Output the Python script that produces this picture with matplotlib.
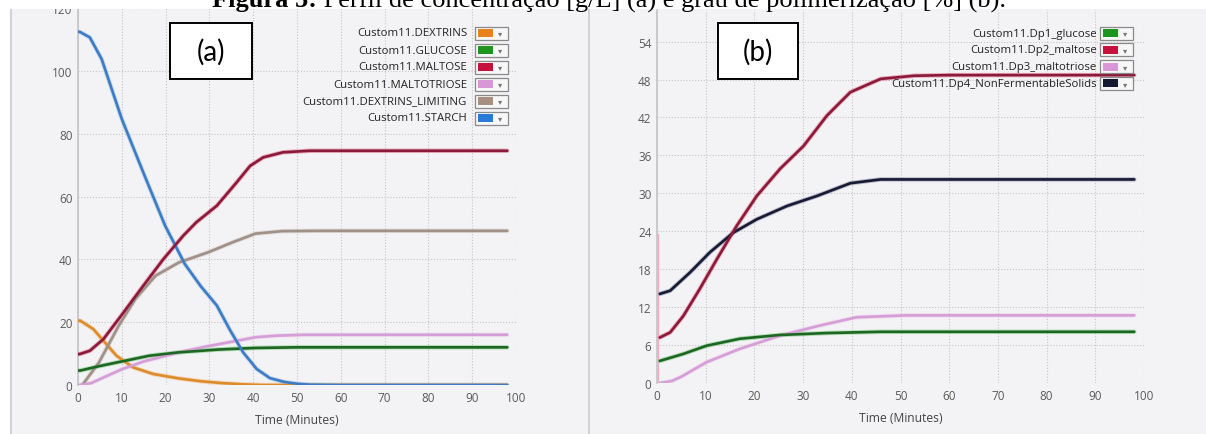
"""
Concentration profile (a) and degree of polymerisation (b) for the mash simulation,
redrawn from the screenshot of the simulator charts.
"""

import matplotlib

matplotlib.use("Agg")
import matplotlib.pyplot as plt
from matplotlib.patches import Rectangle
from matplotlib.lines import Line2D

W, H = 1206, 435

# ---- panel (a): concentration [g/L] ----
STARCH_T = [0, 0.5, 2.7, 5.4, 10, 14.9, 19.9, 24.4, 28, 31.7, 34.7, 37.7, 40.8, 43.8, 47, 50, 53, 60, 98]
STARCH_Y = [112.5, 112.4, 110.7, 103.8, 84.7, 67.7, 50.7, 38.5, 31.5, 25.3, 17.5, 10.4, 5.1, 2.2, 1.0, 0.4, 0.1, 0, 0]

MALTOSE_T = [0, 0.5, 2.7, 5.8, 10.4, 14.9, 19.5, 24, 27, 31.7, 36.2, 39.3, 42.3, 46.8, 52.9, 60, 98]
MALTOSE_Y = [9.8, 9.9, 10.9, 14.6, 23.1, 31.6, 40.1, 47.5, 51.8, 57.1, 64.5, 69.8, 72.5, 74.1, 74.6, 74.6, 74.6]

DEXLIM_T = [1, 2, 4.8, 9.3, 13.1, 17.7, 23, 29.8, 35.2, 40.5, 46.6, 55, 98]
DEXLIM_Y = [0, 1.9, 7.2, 18.9, 27.4, 34.8, 39, 42.3, 45.4, 48.2, 49.0, 49.1, 49.1]

MALTOTRIOSE_T = [0, 1, 3, 6, 10, 15, 20, 25, 29.8, 35.2, 40.5, 45.1, 52, 98]
MALTOTRIOSE_Y = [0, 0.1, 0.6, 2.5, 5, 7.5, 9.3, 11, 12.4, 13.8, 15.2, 15.7, 16, 16]

GLUCOSE_T = [0, 0.5, 4.5, 9.3, 16.2, 23, 32.1, 40.5, 50, 98]
GLUCOSE_Y = [4.6, 4.6, 5.9, 7.3, 9.3, 10.4, 11.3, 11.8, 12, 12]

DEXTRINS_T = [0, 0.5, 3.5, 5.8, 8.8, 12.6, 17.2, 23, 28, 33, 38, 42, 98]
DEXTRINS_Y = [20.5, 20.5, 17.8, 14.1, 9.3, 5.6, 3.5, 2.1, 1.2, 0.6, 0.2, 0, 0]

# ---- panel (b): degree of polymerisation [%] ----
DP2_T = [0.6, 2.7, 5.4, 8.8, 12.3, 16.4, 20.5, 25.3, 30.1, 34.9, 39.7, 45.9, 52.8, 60, 98]
DP2_Y = [7.2, 8, 10.6, 14.9, 19.6, 24.9, 29.6, 33.9, 37.5, 42.3, 46, 48.1, 48.6, 48.7, 48.7]

DP4_T = [0.6, 2.7, 6.8, 10.9, 15.7, 20.5, 26.7, 32.9, 39.7, 45.9, 55, 98]
DP4_Y = [14.1, 14.6, 17.5, 20.7, 23.8, 25.9, 28, 29.6, 31.6, 32.2, 32.2, 32.2]

DP1_T = [0.6, 5.4, 10.2, 17, 25.3, 34.9, 45.9, 55, 98]
DP1_Y = [3.5, 4.6, 5.9, 7, 7.6, 7.9, 8.1, 8.1, 8.1]

DP3_T = [0.6, 3, 5, 10.2, 17, 25.3, 33.5, 41, 51.2, 60, 98]
DP3_Y = [0, 0.3, 1, 3.3, 5.4, 7.5, 9.1, 10.4, 10.7, 10.7, 10.7]

SPIKE_T = [0.3, 0.3]
SPIKE_Y = [0, 23.5]

LEGEND_A = [
    ("Custom11.DEXTRINS", "#e8821e"),
    ("Custom11.GLUCOSE", "#1e951e"),
    ("Custom11.MALTOSE", "#c8103c"),
    ("Custom11.MALTOTRIOSE", "#d898d8"),
    ("Custom11.DEXTRINS_LIMITING", "#a89080"),
    ("Custom11.STARCH", "#2a7ad8"),
]
LEGEND_B = [
    ("Custom11.Dp1_glucose", "#1e951e"),
    ("Custom11.Dp2_maltose", "#c8103c"),
    ("Custom11.Dp3_maltotriose", "#d898d8"),
    ("Custom11.Dp4_NonFermentableSolids", "#141830"),
]

TICKS_A = [0, 20, 40, 60, 80, 100, 120]
TICKS_B = [0, 6, 12, 18, 24, 30, 36, 42, 48, 54]
TICKS_X = list(range(0, 101, 10))

TITLE_BOLD = "Figura 5:"
TITLE_REST = " Perfil de concentração [g/L] (a) e grau de polimerização [%] (b)."

BG = "#f3f3f5"
GRID = "#c6c6c8"
UI_FONT = ["Open Sans", "DejaVu Sans"]


def fx(px):
    return px / W


def fy(py):
    return 1 - py / H


def curve(ax, t, y, core, glow):
    ax.plot(t, y, color=glow, lw=3.2, alpha=0.45, solid_capstyle="round", zorder=3)
    ax.plot(t, y, color=core, lw=1.9, solid_capstyle="round", zorder=4)


def style_axes(ax, yticks, ylim):
    ax.set_facecolor("none")
    ax.set_xlim(0, 100)
    ax.set_ylim(*ylim)
    ax.set_xticks(TICKS_X)
    ax.set_yticks(yticks)
    ax.grid(True, color=GRID, linestyle=(0, (1, 1.6)), lw=0.8, zorder=0)
    for side in ("top", "right", "bottom"):
        ax.spines[side].set_visible(False)
    ax.spines["left"].set_color("#c4c4c6")
    ax.spines["left"].set_linewidth(1.2)
    ax.tick_params(length=0, labelsize=8.5, labelcolor="#5a5a5a", pad=4)
    for lab in ax.get_xticklabels() + ax.get_yticklabels():
        lab.set_family(UI_FONT)
    ax.set_xlabel("Time (Minutes)", fontsize=8.7, color="#444444", family=UI_FONT, labelpad=7)


def legend(fig, entries, text_right, box_left, top, step):
    for i, (name, color) in enumerate(entries):
        yc = top + i * step
        fig.text(fx(text_right), fy(yc), name, ha="right", va="center",
                 fontsize=8.2, color="#222222", family=UI_FONT, zorder=6)
        fig.add_artist(Rectangle((fx(box_left), fy(yc + 6.5)), fx(33), 13 / H,
                                 transform=fig.transFigure, facecolor="#f7f7f7",
                                 edgecolor="#8a8a8a", lw=0.9, zorder=6))
        fig.add_artist(Rectangle((fx(box_left + 3), fy(yc + 4)), fx(15), 8 / H,
                                 transform=fig.transFigure, facecolor=color,
                                 edgecolor="none", zorder=7))
        fig.text(fx(box_left + 25), fy(yc), "\u25be", ha="center", va="center",
                 fontsize=6, color="#777777", family="DejaVu Sans", zorder=7)


def label_box(fig, left, right, top, bottom, text):
    fig.add_artist(Rectangle((fx(left), fy(bottom)), fx(right - left), (bottom - top) / H,
                             transform=fig.transFigure, facecolor="white",
                             edgecolor="black", lw=1.4, zorder=6))
    fig.text(fx((left + right) / 2), fy((top + bottom) / 2), text, ha="center", va="center",
             fontsize=20, family=["Lato", "DejaVu Sans"], zorder=7)


def main():
    fig = plt.figure(figsize=(W / 100, H / 100), dpi=100)
    fig.patch.set_facecolor("white")

    # grey panels of the screenshot
    fig.add_artist(Rectangle((fx(11), 0), fx(W - 11), fy(10), transform=fig.transFigure,
                             facecolor=BG, edgecolor="none", zorder=-5))
    for xp in (11, 589):
        fig.add_artist(Line2D([fx(xp), fx(xp)], [0, fy(10)], transform=fig.transFigure,
                              color="#cfcfd2", lw=1.3, zorder=-4))

    ax_a = fig.add_axes([fx(78), fy(386), fx(516 - 78), (386 - 9.2) / H])
    ax_b = fig.add_axes([fx(657), fy(384), fx(1144 - 657), (384 - 11) / H])

    curve(ax_a, DEXTRINS_T, DEXTRINS_Y, "#dd8c2c", "#f2b46a")
    curve(ax_a, DEXLIM_T, DEXLIM_Y, "#9f9088", "#c9bcb4")
    curve(ax_a, MALTOTRIOSE_T, MALTOTRIOSE_Y, "#d69ed6", "#eac4ea")
    curve(ax_a, GLUCOSE_T, GLUCOSE_Y, "#1d6624", "#5fbf5f")
    curve(ax_a, STARCH_T, STARCH_Y, "#3d7cc2", "#8ab8e8")
    curve(ax_a, MALTOSE_T, MALTOSE_Y, "#8a1a3a", "#e0506e")
    style_axes(ax_a, TICKS_A, (0, 120))

    ax_b.plot(SPIKE_T, SPIKE_Y, color="#e8b0c4", lw=1.0, zorder=2)
    curve(ax_b, DP3_T, DP3_Y, "#d69ed6", "#eac4ea")
    curve(ax_b, DP1_T, DP1_Y, "#1d6624", "#5fbf5f")
    curve(ax_b, DP4_T, DP4_Y, "#161a33", "#6a6f90")
    curve(ax_b, DP2_T, DP2_Y, "#8a1a3a", "#e0506e")
    style_axes(ax_b, TICKS_B, (0, 59))

    legend(fig, LEGEND_A, 467, 475, 34, 17)
    legend(fig, LEGEND_B, 1097, 1100, 34, 16.8)
    label_box(fig, 170, 252, 24, 80, "(a)")
    label_box(fig, 718, 798, 24, 80, "(b)")

    # document caption, cut off at the top of the screenshot
    fig.add_artist(Rectangle((0, fy(10)), 1, 10 / H, transform=fig.transFigure,
                             facecolor="white", edgecolor="none", zorder=8))
    t1 = fig.text(fx(212), fy(7.5), TITLE_BOLD, ha="left", va="baseline", fontsize=19,
                  weight="bold", family="Liberation Serif", zorder=9)
    fig.canvas.draw()
    bb = t1.get_window_extent()
    fig.text(bb.x1 / W, fy(7.5), TITLE_REST, ha="left", va="baseline", fontsize=19,
             family="Liberation Serif", zorder=9)

    fig.savefig("out.png", dpi=100)
    plt.close(fig)


if __name__ == "__main__":
    main()
